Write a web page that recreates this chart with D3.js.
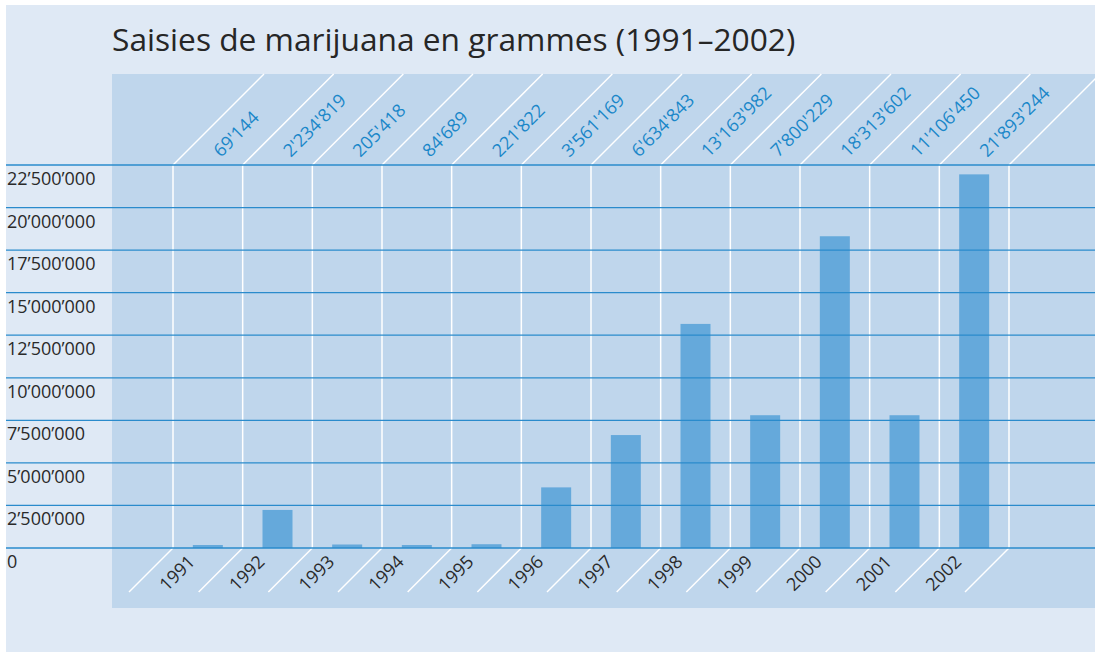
<!DOCTYPE html>
<html>
<head>
<meta charset="utf-8">
<script src="https://d3js.org/d3.v7.min.js"></script>
<style>
  body { margin: 0; background: #fff; }
  svg { display: block; font-family: "Open Sans", sans-serif; }
</style>
</head>
<body>
<svg id="chart"></svg>
<script>
// data
const years = ["1991", "1992", "1993", "1994", "1995", "1996", "1997", "1998", "1999", "2000", "2001", "2002"];
// printed totals (grams) above each column
const seizures = [69144, 2234819, 205418, 84689, 221822, 3561169, 6634843, 13163982, 7800229, 18313602, 11106450, 21893244];
// bar heights as drawn in the picture (2001 bar is drawn at ~7.8M there)
const barValues = [69144, 2234819, 205418, 84689, 221822, 3561169, 6634843, 13163982, 7800229, 18313602, 7800000, 21950000];
const yTicks = [0, 2500000, 5000000, 7500000, 10000000, 12500000, 15000000, 17500000, 20000000, 22500000];
const title = "Saisies de marijuana en grammes (1991–2002)";

const W = 1095, H = 652;
const svg = d3.select('#chart').attr('width', W).attr('height', H);

const x = d3.scaleBand().domain(years).range([173, 1009]);
const y = d3.scaleLinear().domain([0, 22500000]).range([548, 165]);
const barW = 30;

const tickFmt = d3.formatLocale({ decimal: ".", thousands: "’", grouping: [3], currency: ["", ""] }).format(",");
const valFmt = d3.formatLocale({ decimal: ".", thousands: "'", grouping: [3], currency: ["", ""] }).format(",");

// backgrounds
svg.append('rect').attr('x', 6).attr('y', 5).attr('width', W - 6).attr('height', 647).attr('fill', '#dfe9f5');
svg.append('rect').attr('x', 112).attr('y', 74).attr('width', W - 112).attr('height', 534).attr('fill', '#bfd6ec');

svg.append('text')
   .attr('x', 112).attr('y', 51)
   .attr('font-size', 31.7).attr('fill', '#262626')
   .text(title);

// column edges: vertical + diagonals
const edges = years.map(d => x(d)).concat([x.range()[1]]);
const edgeG = svg.append('g').attr('stroke', '#fff').attr('stroke-width', 1.5).attr('fill', 'none');
edgeG.selectAll('line.v').data(edges).enter().append('line')
     .attr('x1', d => d).attr('x2', d => d)
     .attr('y1', y(22500000)).attr('y2', y(0));
edgeG.selectAll('line.t').data(edges).enter().append('line')
     .attr('x1', d => d).attr('y1', y(22500000))
     .attr('x2', d => d + (y(22500000) - 74)).attr('y2', 74);
edgeG.selectAll('line.b').data(edges).enter().append('line')
     .attr('x1', d => d).attr('y1', y(0))
     .attr('x2', d => d - 44).attr('y2', y(0) + 44);

// bars
svg.append('g').selectAll('rect')
   .data(barValues)
   .enter()
   .append('rect')
     .attr('x', (d, i) => x(years[i]) + (x.bandwidth() - barW) / 2)
     .attr('width', barW)
     .attr('y', d => Math.min(y(d), y(0) - 3))
     .attr('height', d => Math.max(y(0) - y(d), 3))
     .attr('fill', '#65a9db');

// grid + y labels
const grid = svg.append('g');
grid.selectAll('line').data(yTicks).enter().append('line')
    .attr('x1', 6).attr('x2', W)
    .attr('y1', d => y(d)).attr('y2', d => y(d))
    .attr('stroke', '#2a8bcc').attr('stroke-width', 1.3);
grid.selectAll('text').data(yTicks).enter().append('text')
    .attr('x', 7).attr('y', d => y(d) + 20)
    .attr('font-size', 18).attr('fill', '#2a2a2a')
    .text(d => tickFmt(d));

// values on top
svg.append('g').selectAll('text')
   .data(seizures)
   .enter()
   .append('text')
     .attr('transform', (d, i) => `translate(${x(years[i]) + 48}, 158) rotate(-45)`)
     .attr('font-size', 18).attr('fill', '#1a87c9')
     .text(d => valFmt(d));

// years at bottom
svg.append('g').selectAll('text')
   .data(years)
   .enter()
   .append('text')
     .attr('transform', d => `translate(${x(d) - 6}, 592) rotate(-45)`)
     .attr('font-size', 18).attr('fill', '#2a2a2a')
     .text(d => d);
</script>
</body>
</html>
